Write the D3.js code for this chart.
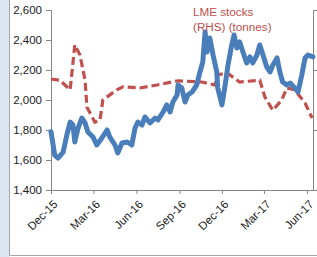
<!DOCTYPE html>
<html>
<head>
<meta charset="utf-8">
<script src="https://cdnjs.cloudflare.com/ajax/libs/d3/7.8.5/d3.min.js"></script>
<style>
  html, body { margin: 0; padding: 0; background: #fff; }
  svg { display: block; font-family: "Liberation Sans", Arial, sans-serif; }
  .axis path, .axis line { stroke: #868686; }
  .axis text { fill: #1a1a1a; font-size: 11.5px; }
</style>
</head>
<body>
<div id="chart"></div>
<script>
// lead price (LHS)
const priceDates = ["2015-12-01","2015-12-09","2015-12-16","2015-12-27","2016-01-04","2016-01-11","2016-01-17","2016-01-21","2016-01-28","2016-02-05","2016-02-12","2016-02-18","2016-02-29","2016-03-08","2016-03-19","2016-03-30","2016-04-05","2016-04-16","2016-04-22","2016-05-01","2016-05-12","2016-05-22","2016-05-29","2016-06-04","2016-06-13","2016-06-19","2016-06-30","2016-07-11","2016-07-17","2016-07-28","2016-08-05","2016-08-12","2016-08-18","2016-08-27","2016-08-29","2016-09-06","2016-09-13","2016-09-19","2016-09-28","2016-10-08","2016-10-15","2016-10-21","2016-10-26","2016-10-30","2016-11-05","2016-11-12","2016-11-20","2016-11-22","2016-12-01","2016-12-07","2016-12-14","2016-12-22","2016-12-27","2017-01-02","2017-01-08","2017-01-15","2017-01-23","2017-01-30","2017-02-05","2017-02-14","2017-02-20","2017-02-27","2017-03-07","2017-03-14","2017-03-20","2017-03-29","2017-04-04","2017-04-10","2017-04-19","2017-04-26","2017-05-06","2017-05-13","2017-05-21","2017-05-28","2017-06-03","2017-06-14"]
const priceValues = [1789,1633,1613,1653,1767,1853,1833,1720,1813,1880,1847,1787,1753,1700,1747,1800,1753,1700,1647,1713,1720,1700,1813,1853,1833,1887,1847,1880,1867,1920,1967,1920,1987,2033,2100,2080,1987,2033,2053,2100,2187,2253,2453,2320,2413,2300,2187,2080,1967,2080,2233,2367,2433,2347,2387,2320,2247,2287,2247,2300,2367,2300,2220,2187,2233,2280,2187,2120,2100,2113,2080,2053,2167,2280,2300,2287]

// LME stocks (RHS), tonnes
const stockDates = ["2015-12-01","2015-12-20","2016-01-11","2016-01-21","2016-02-01","2016-02-12","2016-02-16","2016-03-04","2016-03-15","2016-03-21","2016-04-20","2016-05-03","2016-06-08","2016-07-15","2016-08-29","2016-10-19","2016-11-16","2016-11-22","2016-12-12","2017-01-08","2017-02-20","2017-03-03","2017-03-20","2017-04-08","2017-04-19","2017-05-06","2017-05-28","2017-06-12"]
const stockValues = [185000,183000,167000,242000,225000,183000,138000,113000,117000,150000,167000,172000,170000,175000,182000,180000,175000,192000,195000,180000,183000,155000,133000,150000,170000,167000,145000,120000]

const leftTicks = [1400,1600,1800,2000,2200,2400,2600]
const rightTicks = [0,100000,200000,300000]
const xTickDates = ["2015-12-01","2016-03-01","2016-06-01","2016-09-01","2016-12-01","2017-03-01","2017-06-01"]
const xDomain = ["2015-12-01","2017-06-14"]
const legendLines = ["LME stocks","(RHS) (tonnes)"]

const W = 317, H = 257
const M = { left: 51, right: 313, top: 10, bottom: 190 }
const BLUE = "#4a7ebb", RED = "#c0504d"

const parse = d3.timeParse("%Y-%m-%d")
const price = priceDates.map((d, i) => ({ date: parse(d), value: priceValues[i] }))
const stock = stockDates.map((d, i) => ({ date: parse(d), value: stockValues[i] }))

const svg = d3.select("#chart").append("svg").attr("width", W).attr("height", H)

// panel frame
svg.append("rect").attr("x", 0).attr("y", 0).attr("width", 9.5).attr("height", H).attr("fill", "#dce6f2")
svg.append("line").attr("x1", 9.5).attr("x2", 9.5).attr("y1", 0).attr("y2", 255.5).attr("stroke", "#a6a6a6")
svg.append("line").attr("x1", 9.5).attr("x2", W).attr("y1", 255.5).attr("y2", 255.5).attr("stroke", "#a6a6a6")

// SCALES
const x = d3.scaleTime().domain(xDomain.map(parse)).range([M.left, M.right])
const yL = d3.scaleLinear().domain([1400, 2600]).range([M.bottom, M.top])
const yR = d3.scaleLinear().domain([0, 300000]).range([M.bottom, M.top])

// AXES
svg.append("g").attr("class", "axis")
  .attr("transform", `translate(${M.left},0)`)
  .call(d3.axisLeft(yL).tickValues(leftTicks).tickFormat(d3.format(",")).tickSize(5).tickPadding(4))

// right axis: labels sit outside the cropped picture, so only the ticks
svg.append("g").attr("class", "axis")
  .attr("transform", `translate(${M.right},0)`)
  .call(d3.axisRight(yR).tickValues(rightTicks).tickFormat("").tickSize(5))

const gX = svg.append("g").attr("class", "axis")
  .attr("transform", `translate(0,${M.bottom})`)
  .call(d3.axisBottom(x).tickValues(xTickDates.map(parse)).tickFormat(d3.timeFormat("%b-%y")).tickSize(4).tickSizeOuter(0))
gX.selectAll(".tick text")
  .attr("text-anchor", "end")
  .attr("x", 0).attr("y", 0).attr("dy", "0.35em")
  .attr("transform", "translate(4,12) rotate(-45)")

// LINES
const priceLine = d3.line().x(d => x(d.date)).y(d => yL(d.value))
const stockLine = d3.line().x(d => x(d.date)).y(d => yR(d.value))

svg.append("path").datum(stock)
  .attr("fill", "none").attr("stroke", RED).attr("stroke-width", 3.2)
  .attr("stroke-dasharray", "8,4").attr("d", stockLine)

svg.append("path").datum(price)
  .attr("fill", "none").attr("stroke", BLUE).attr("stroke-width", 5)
  .attr("stroke-linejoin", "round").attr("stroke-linecap", "round").attr("d", priceLine)

// legend label
svg.append("text").attr("x", 193).attr("y", 16)
  .attr("fill", RED).style("font-size", "11.7px")
  .selectAll("tspan").data(legendLines).enter().append("tspan")
  .attr("x", 193).attr("dy", (d, i) => i ? 15 : 0).text(d => d)
</script>
</body>
</html>
